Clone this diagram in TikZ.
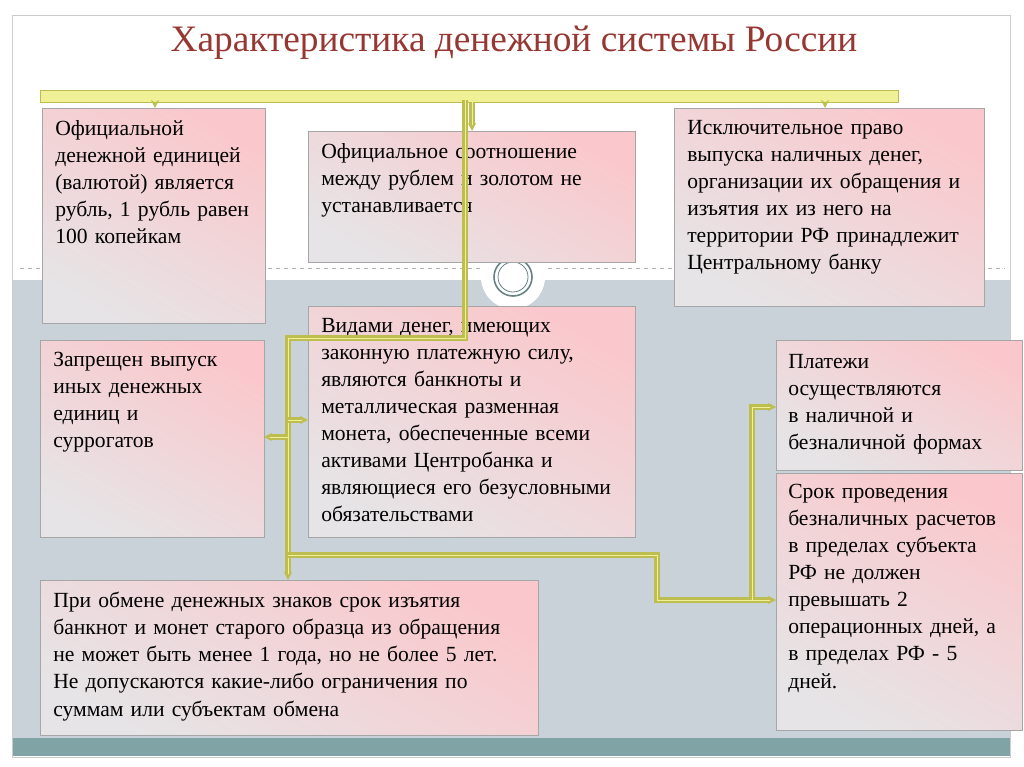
\documentclass[tikz,border=0pt]{standalone}
\usepackage{fontspec}
\setmainfont{Liberation Serif}
\usetikzlibrary{arrows.meta}
\definecolor{bggrey}{RGB}{200,210,216}
\definecolor{strip}{RGB}{128,163,166}
\definecolor{titlered}{RGB}{150,55,50}
\definecolor{pinkc}{RGB}{250,200,204}
\definecolor{greyc}{RGB}{230,228,230}
\definecolor{yel}{RGB}{240,240,150}
\definecolor{yeldark}{RGB}{190,190,80}
\tikzset{
  card/.style={draw=gray!70, top color=pinkc, bottom color=greyc, shading angle=-30, line width=0.5pt},
  cardtext/.style={anchor=north west, align=left, font=\fontsize{16.2}{20.3}\selectfont, inner sep=0pt},
  conn/.style={draw=yeldark, line width=1.6pt, double=yel, double distance=0.6pt},
  tip/.style={-{Stealth[length=6pt,width=6pt,fill=yel]}}
}
\begin{document}
\begin{tikzpicture}[x=0.75pt,y=-0.75pt]
\useasboundingbox (0,0) rectangle (1024,767);
\fill[white] (0,0) rectangle (1024,767);
\fill[bggrey] (12,280) rectangle (1010,738);
\fill[strip] (12,738) rectangle (1010,756);
\draw[gray!40] (12,15) rectangle (1010,757);
\draw[gray!60,dashed] (20,268) -- (1005,268);
\fill[white] (513,277) circle (32);
\draw[strip!80!black,line width=1.2pt] (513,277) circle (19);
\draw[strip!80!black,line width=0.6pt] (513,277) circle (15);
\node[font=\fontsize{28}{31}\selectfont, text=titlered] (title) at (514,43) {Характеристика денежной системы России};
\fill[yel,draw=yeldark] (40,90) rectangle (898,102);
\coordinate (bar1) at (155,102); \coordinate (bar2) at (472,102); \coordinate (bar3) at (825,102);
\coordinate (barm) at (465,100);
% boxes
\path[card] (42,108) rectangle (265,323); \node[cardtext,text width=200pt] (a) at (55,120) {Официальной\\денежной единицей\\(валютой) является\\рубль, 1 рубль равен\\100 копейкам};
\path[card] (308,131) rectangle (635,262); \node[cardtext,text width=230pt] (b) at (321,143) {Официальное соотношение\\между рублем и золотом не\\устанавливается};
\path[card] (674,108) rectangle (984,306); \node[cardtext,text width=225pt] (c) at (687,120) {Исключительное право\\выпуска наличных денег,\\организации их обращения и\\изъятия их из него на\\территории РФ принадлежит\\Центральному банку};
\path[card] (40,340) rectangle (264,537); \node[cardtext,text width=160pt] (d) at (53,352) {Запрещен выпуск\\иных денежных\\единиц и\\суррогатов};
\path[card] (308,306) rectangle (635,537); \node[cardtext,text width=235pt] (e) at (321,318) {Видами денег, имеющих\\законную платежную силу,\\являются банкноты и\\металлическая разменная\\монета, обеспеченные всеми\\активами Центробанка и\\являющиеся его безусловными\\обязательствами};
\path[card] (776,340) rectangle (1022,470); \node[cardtext,text width=175pt] (f) at (788,354) {Платежи\\осуществляются\\в наличной и\\безналичной формах};
\path[card] (776,473) rectangle (1022,730); \node[cardtext,text width=175pt] (g) at (788,484) {Срок проведения\\безналичных расчетов\\в пределах субъекта\\РФ не должен\\превышать 2\\операционных дней, а\\в пределах РФ - 5\\дней.};
\path[card] (40,580) rectangle (538,735); \node[cardtext,text width=365pt] (h) at (53,592) {При обмене денежных знаков срок изъятия\\банкнот и монет старого образца из обращения\\не может быть менее 1 года, но не более 5 лет.\\Не допускаются какие-либо ограничения по\\суммам или субъектам обмена};
% connectors
\coordinate (ta) at (155,108); \coordinate (tb) at (472,131); \coordinate (tc) at (825,108);
\draw[conn,tip] (bar1) -- (ta);
\draw[conn,tip] (bar2) -- (tb);
\draw[conn,tip] (bar3) -- (tc);
\coordinate (j1) at (288,338); \coordinate (j2) at (288,420); \coordinate (j3) at (288,437);
\coordinate (j4) at (288,555);
\coordinate (ee) at (308,420); \coordinate (dd) at (264,437); \coordinate (hh) at (288,580);
\coordinate (gg) at (776,600); \coordinate (ff) at (776,407);
\draw[conn] (barm) -- (465,338) -- (j1) -- (j4);
\draw[conn,tip] (j2) -- (ee);
\draw[conn,tip] (j3) -- (dd);
\draw[conn,tip] (j4) -- (hh);
\draw[conn,tip] (j4) -- (657,555) -- (657,600) -- (gg);
\draw[conn,tip] (752,600) -- (752,407) -- (ff);
\end{tikzpicture}
\end{document}
